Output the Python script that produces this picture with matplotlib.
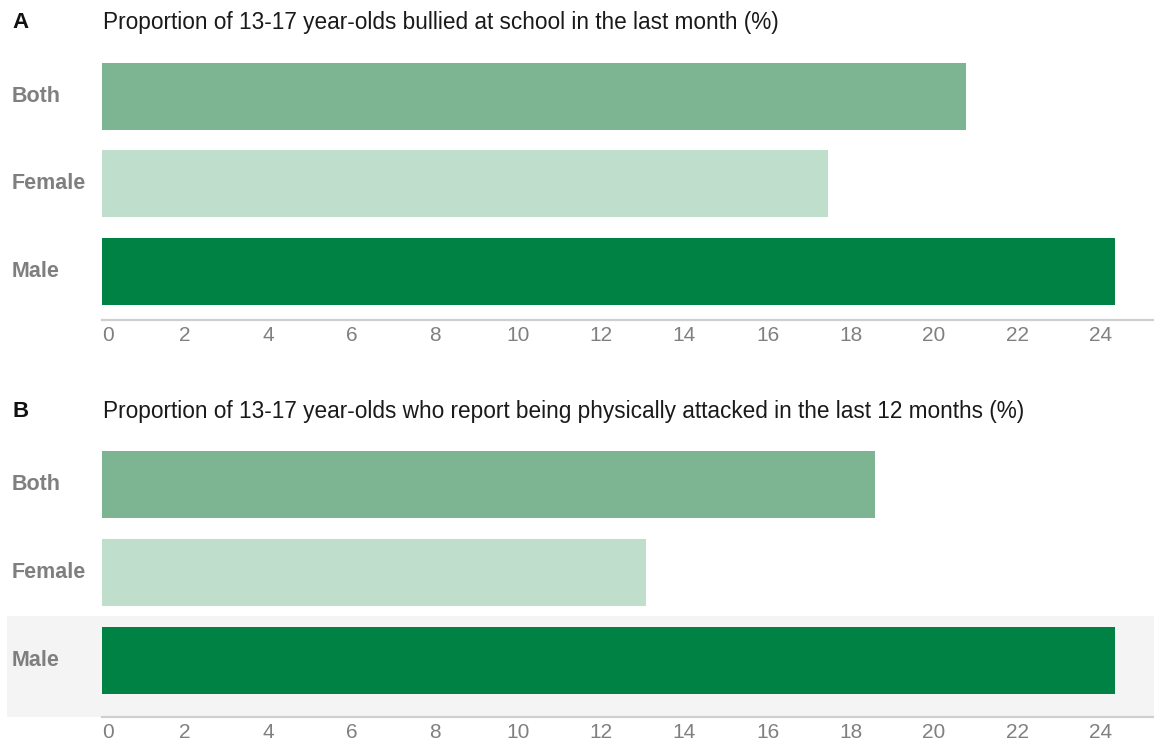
import matplotlib.pyplot as plt
import matplotlib.transforms as mtransforms
from matplotlib.patches import Rectangle

plt.rcParams['font.family'] = ['Liberation Sans', 'DejaVu Sans']

# data
categories = ['Both', 'Female', 'Male']
bullied = [20.77, 17.45, 24.35]
attacked = [18.58, 13.08, 24.35]
ticks = list(range(0, 26, 2))
bar_colors = ['#7db593', '#bfdecb', '#008245']

W, H = 1154, 742
fig = plt.figure(figsize=(W / 100, H / 100), dpi=100)

def px_axes(left, top, right, bottom):
    return fig.add_axes([left / W, 1 - bottom / H, (right - left) / W, (bottom - top) / H])

def panel(ax, values, ylim, letter, title, title_y):
    ax.barh(range(len(categories)), values, height=0.766, color=bar_colors)
    ax.set_xlim(0, 25.29)
    ax.set_ylim(*ylim)
    ax.set_xticks(ticks)
    ax.set_yticks([])
    for s in ['top', 'right', 'left']:
        ax.spines[s].set_visible(False)
    ax.spines['bottom'].set_color('#cfcfcf')
    ax.spines['bottom'].set_linewidth(1.6)
    ax.tick_params(axis='x', length=0, pad=4, labelsize=15, labelcolor='#808080')
    ax.get_xticklabels()[0].set_ha('left')
    ax.patch.set_alpha(0)
    tr = mtransforms.blended_transform_factory(fig.transFigure, ax.transData)
    for i, c in enumerate(categories):
        ax.text(12 / W, i, c, transform=tr, ha='left', va='center',
                fontsize=15.5, fontweight='bold', color='#7f7f7f')
    fig.text(12 / W, 1 - title_y / H, letter, fontsize=16, fontweight='bold',
             color='#111111', va='center', ha='left')
    fig.text(103 / W, 1 - title_y / H, title, fontsize=16.3,
             color='#1a1a1a', va='center', ha='left')

axA = px_axes(102, 47.5, 1154, 320)
panel(axA, bullied, (2.56, -0.56), 'A',
      'Proportion of 13-17 year-olds bullied at school in the last month (%)', 22)

axB = px_axes(102, 435.5, 1154, 717)
# grey highlight band behind the Male row
trB = mtransforms.blended_transform_factory(fig.transFigure, axB.transData)
fig.patches.append(Rectangle((7 / W, 1.5), 1 - 7 / W, 0.646 + 0.5, transform=trB,
                             facecolor='#f4f4f4', edgecolor='none', zorder=-10))
panel(axB, attacked, (2.646, -0.56), 'B',
      'Proportion of 13-17 year-olds who report being physically attacked in the last 12 months (%)', 411)

fig.savefig('out.png', dpi=100)
